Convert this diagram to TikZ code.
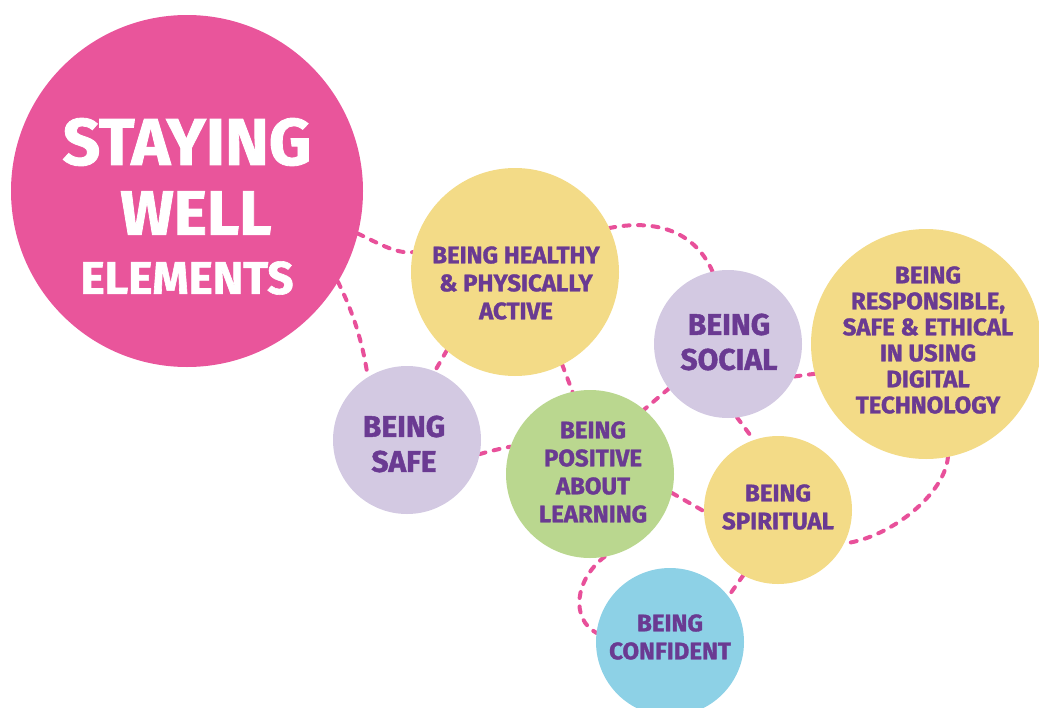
\documentclass[tikz,border=0pt]{standalone}
\usepackage{fontspec}
\setmainfont{Fira Sans}[BoldFeatures={FakeBold=1.3}]
\usetikzlibrary{backgrounds}
\definecolor{pinkc}{RGB}{233,85,155}
\definecolor{yelc}{RGB}{243,219,135}
\definecolor{lavc}{RGB}{211,201,226}
\definecolor{grnc}{RGB}{186,215,143}
\definecolor{bluc}{RGB}{141,209,230}
\definecolor{txtc}{RGB}{106,58,146}
\definecolor{dashc}{RGB}{232,80,154}
\begin{document}
\begin{tikzpicture}[x=1pt,y=1pt,
  bubble/.style={circle, inner sep=0pt, outer sep=0pt},
  conn/.style={draw=dashc, line width=4pt, dash pattern=on 6pt off 8.5pt, line cap=round},
  lbl/.style={text=txtc, align=center, inner sep=0pt},
  fsmall/.style={font=\bfseries\fontsize{24}{28}\selectfont},
  fresp/.style={font=\bfseries\fontsize{24}{26}\selectfont},
  fbig/.style={font=\bfseries\fontsize{30}{35}\selectfont}]
\useasboundingbox (0,0) rectangle (1039,-707);
\clip (0,0) rectangle (1039,-707);
% circles
\node[bubble, fill=pinkc, minimum size=352pt] (stay) at (187,-191) {};
\node[bubble, fill=yelc, minimum size=208pt] (health) at (515,-272) {};
\node[bubble, fill=lavc, minimum size=148pt] (social) at (728,-344) {};
\node[bubble, fill=yelc, minimum size=230pt] (resp) at (926,-344) {};
\node[bubble, fill=lavc, minimum size=148pt] (safe) at (407,-440) {};
\node[bubble, fill=grnc, minimum size=168pt] (posit) at (590,-474) {};
\node[bubble, fill=yelc, minimum size=148pt] (spirit) at (778,-510) {};
\node[bubble, fill=bluc, minimum size=148pt] (confid) at (670,-642) {};
% texts
\node[text=white, inner sep=0pt, font=\bfseries\fontsize{66}{66}\selectfont] (t1) at (187,-142) {STAYING};
\node[text=white, inner sep=0pt, font=\bfseries\fontsize{63}{63}\selectfont] (t2) at (196,-213) {WELL};
\node[text=white, inner sep=0pt, font=\bfseries\fontsize{46}{46}\selectfont] (t3) at (187,-278) {ELEMENTS};
\node[lbl, fsmall] (thealth) at (516,-283) {BEING HEALTHY\\\& PHYSICALLY\\ACTIVE};
\node[lbl, fbig] (tsocial) at (729,-342) {BEING\\SOCIAL};
\node[lbl, fresp] (tresp) at (928,-340) {BEING\\RESPONSIBLE,\\SAFE \& ETHICAL\\IN USING\\DIGITAL\\TECHNOLOGY};
\node[lbl, fbig] (tsafe) at (404,-444) {BEING\\SAFE};
\node[lbl, fsmall] (tposit) at (593,-472) {BEING\\POSITIVE\\ABOUT\\LEARNING};
\node[lbl, fsmall] (tspirit) at (778,-507) {BEING\\SPIRITUAL};
\node[lbl, fsmall] (tconfid) at (670,-637) {BEING\\CONFIDENT};
% connectors
\begin{scope}[on background layer]
\draw[conn] (stay.-14.4) .. controls +(18,-8) and +(-18,-2) .. (health.169.5);
\draw[conn] (stay.-31.1) .. controls +(15,-30) and +(-5,35) .. (safe.122.4);
\draw[conn] (health.-131) -- (safe.68.6);
\draw[conn] (health.-63.4) -- (posit.102);
\draw[conn] (health.25.3) .. controls +(40,8) and +(-20,45) .. (social.102);
\draw[conn] (social.-143.7) -- (posit.50.7);
\draw[conn] (social.-26.9) -- (resp.195.1);
\draw[conn] (social.-83.8) -- (spirit.109.7);
\draw[conn] (safe.-11.5) .. controls +(10,3) and +(-10,-2) .. (posit.161.6);
\draw[conn] (posit.-13) -- (spirit.181.5);
\draw[conn] (posit.-80.4) .. controls +(-30,-23) and +(-26,14) .. (confid.173.8);
\draw[conn] (spirit.-118.6) -- (confid.38.5);
\draw[conn] (resp.-79) .. controls +(-3,-37) and +(47,6) .. (spirit.-27);
\end{scope}
\end{tikzpicture}
\end{document}
